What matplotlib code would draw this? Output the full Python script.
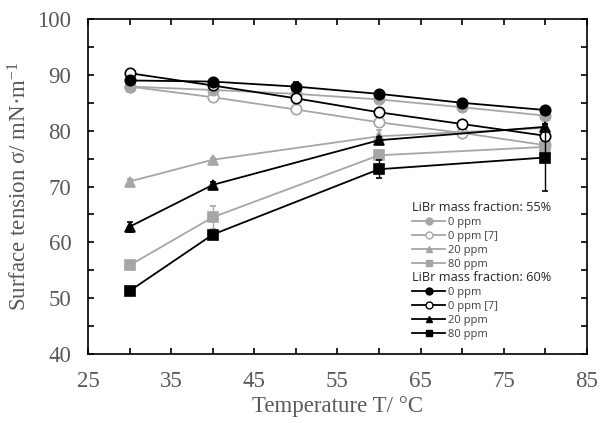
import matplotlib
matplotlib.use("Agg")
import matplotlib.pyplot as plt
from matplotlib.lines import Line2D

plt.rcParams["mathtext.fontset"] = "custom"
plt.rcParams["mathtext.rm"] = "Liberation Serif"
plt.rcParams["mathtext.it"] = "Liberation Serif:italic"

# Temperatures (°C)
t_all = [30, 40, 50, 60, 70, 80]
t_sub = [30, 40, 60, 80]

# LiBr 55 wt%
s55_0 = [87.9, 87.3, 86.6, 85.6, 84.2, 82.7]
s55_0_err = [0.3, 0.3, 0.3, 0.3, 0.3, 0.3]
s55_ref = [87.9, 86.0, 83.8, 81.5, 79.6, 77.4]
s55_20 = [70.9, 74.8, 79.0, 80.5]
s55_20_err = [0.5, 0.4, 1.2, 0.4]
s55_80 = [55.9, 64.5, 75.6, 77.1]
s55_80_err = [0.6, 2.1, 0.5, 0.5]

# LiBr 60 wt%
s60_0 = [89.0, 88.8, 87.9, 86.6, 85.0, 83.7]
s60_0_err = [0.3, 0.3, 0.8, 0.3, 0.3, 0.3]
s60_ref = [90.3, 88.1, 85.8, 83.3, 81.2, 79.1]
s60_20 = [62.8, 70.3, 78.3, 80.7]
s60_20_err = [0.9, 0.6, 0.5, 0.5]
s60_80 = [51.3, 61.4, 73.1, 75.2]
s60_80_err = [0.4, 0.5, 1.6, 6.0]

labels = ["0 ppm", "0 ppm [7]", "20 ppm", "80 ppm"]

GRAY = "#a6a6a6"
BLACK = "#000000"
TXT = "#595959"
SERIF = "Liberation Serif"
FS = 16.5

fig = plt.figure(figsize=(6.0, 4.23), dpi=100)
ax = fig.add_axes([0.1467, 0.163, 0.8313, 0.792])

lw = 1.3
ms_c = 7.5
ms_s = 7.0
ms_t = 7.0
cap = 2.5

def series(x, y, err, color, marker, ms, mfc, z):
    if err is not None:
        ax.errorbar(x, y, yerr=err, color=color, lw=lw, ecolor=color,
                    elinewidth=1.0, capsize=cap, capthick=1.0,
                    marker=marker, ms=ms, mfc=mfc, mec=color, mew=1.2, zorder=z)
    else:
        ax.plot(x, y, color=color, lw=lw, marker=marker, ms=ms,
                mfc=mfc, mec=color, mew=1.2, zorder=z)

# 55 wt% (gray)
series(t_all, s55_ref, None, GRAY, "o", ms_c, "white", 2)
series(t_all, s55_0, s55_0_err, GRAY, "o", ms_c, GRAY, 2)
series(t_sub, s55_20, s55_20_err, GRAY, "^", ms_t, GRAY, 2)
series(t_sub, s55_80, s55_80_err, GRAY, "s", ms_s, GRAY, 2)

# 60 wt% (black)
series(t_all, s60_0, s60_0_err, BLACK, "o", ms_c, BLACK, 3)
series(t_all, s60_ref, None, BLACK, "o", ms_c, "white", 3)
series(t_sub, s60_20, s60_20_err, BLACK, "^", ms_t, BLACK, 3)
series(t_sub, s60_80, s60_80_err, BLACK, "s", ms_s, BLACK, 3)

ax.set_xlim(25, 85)
ax.set_ylim(40, 100)
ax.set_xticks([25, 35, 45, 55, 65, 75, 85])
ax.set_xticks([30, 40, 50, 60, 70, 80], minor=True)
ax.set_yticks([40, 50, 60, 70, 80, 90, 100])
ax.set_yticks([45, 55, 65, 75, 85, 95], minor=True)

for side in ax.spines.values():
    side.set_linewidth(1.2)
ax.tick_params(which="both", direction="in", top=True, right=True,
               length=4, width=1.2, colors="black", labelcolor=TXT,
               labelsize=FS, pad=12)
for lab in ax.get_xticklabels() + ax.get_yticklabels():
    lab.set_fontfamily(SERIF)

ax.set_xlabel("Temperature T/ °C", fontfamily=SERIF,
              fontsize=FS, color=TXT, labelpad=3)
ax.set_ylabel("Surface tension σ/ mN·m$^{-1}$", fontfamily=SERIF,
              fontsize=FS, color=TXT, labelpad=4)

def handles(color):
    hs = []
    for m, mfc in [("o", color), ("o", "white"), ("^", color), ("s", color)]:
        hs.append(Line2D([0], [0], color=color, lw=lw, marker=m, ms=5,
                         mfc=mfc, mec=color, mew=1.0))
    return hs

leg_kw = dict(frameon=False, handlelength=2.9,
              handletextpad=0.3, labelspacing=0.28, borderpad=0.1,
              alignment="left", loc="upper left",
              prop={"family": "Open Sans", "size": 8},
              title_fontproperties={"family": "Open Sans", "size": 9.2})

leg1 = ax.legend(handles(GRAY), labels, title="LiBr mass fraction: 55%",
                 bbox_to_anchor=(0.637, 0.478), **leg_kw)
for t in leg1.get_texts():
    t.set_color("#404040")
leg1.get_title().set_color("#262626")
ax.add_artist(leg1)

leg2 = ax.legend(handles(BLACK), labels, title="LiBr mass fraction: 60%",
                 bbox_to_anchor=(0.637, 0.269), **leg_kw)
for t in leg2.get_texts():
    t.set_color("#404040")
leg2.get_title().set_color("#262626")

fig.savefig("out.png", dpi=100)
